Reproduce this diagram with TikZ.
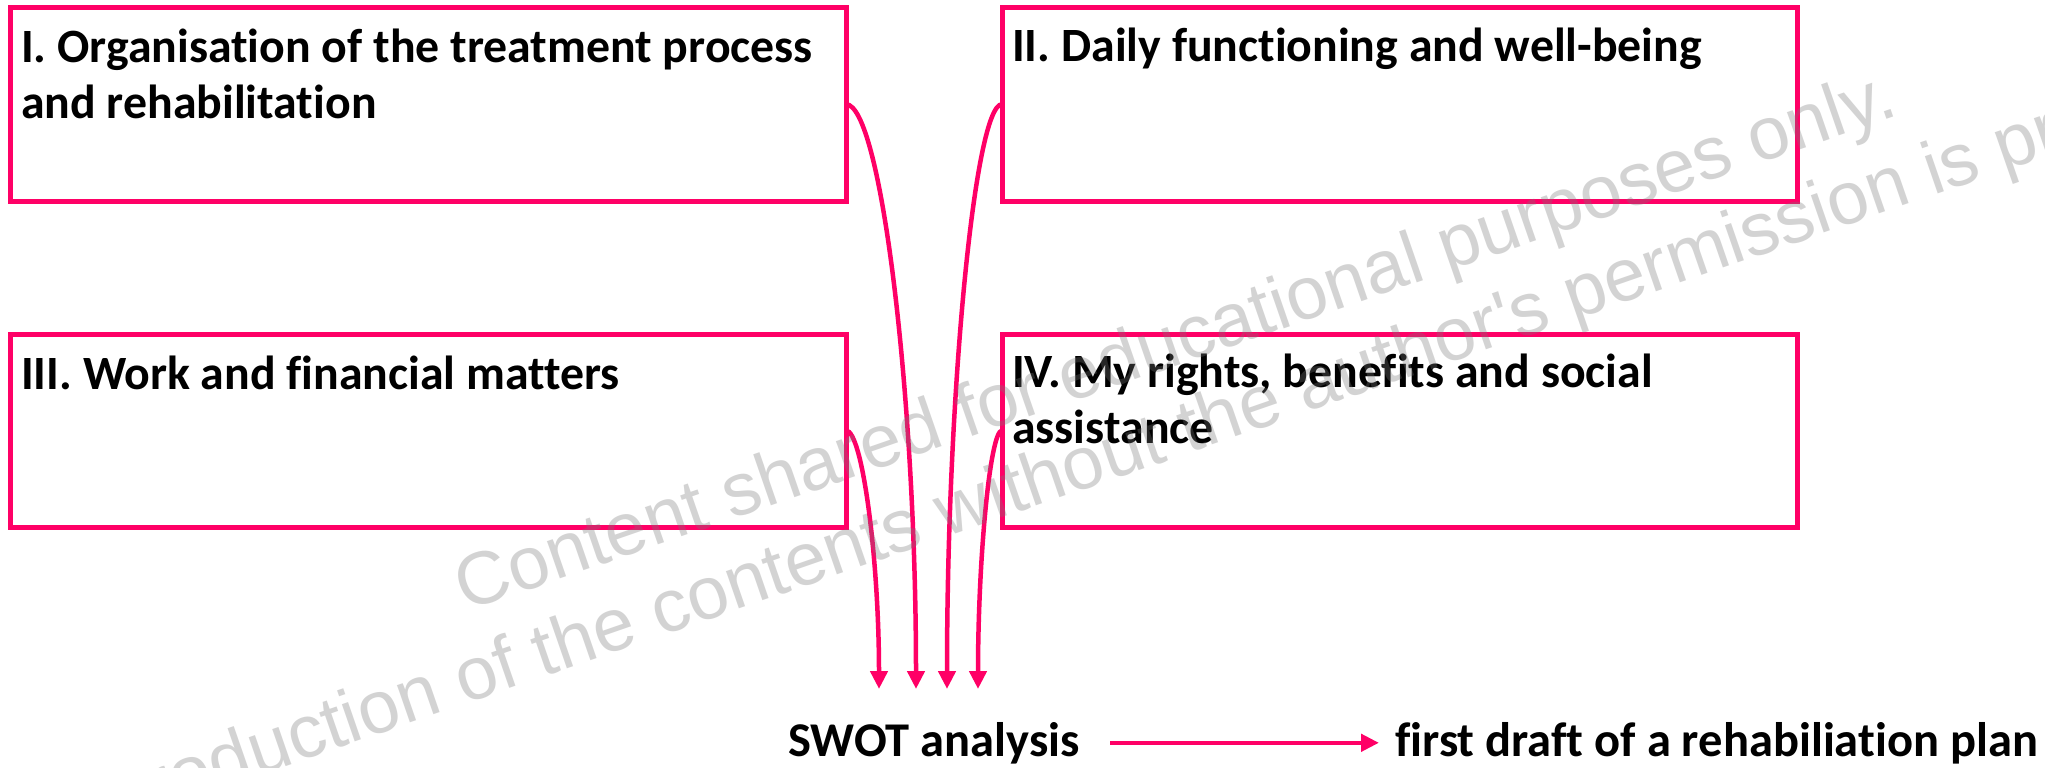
\documentclass[tikz,border=0pt]{standalone}
\usepackage{fontspec}
\setmainfont{Carlito}[Ligatures=NoCommon]
\newfontfamily\wmfont{Liberation Sans}
\usetikzlibrary{arrows.meta,calc}
\definecolor{pinkc}{RGB}{255,0,102}
\definecolor{wmgray}{RGB}{120,120,120}
\begin{document}
\begin{tikzpicture}[x=1pt,y=-1pt,
  box/.style={draw=pinkc, line width=5pt, rectangle, anchor=north west, inner sep=0pt, outer sep=0pt},
  lbl/.style={font=\fontsize{47.8}{56}\selectfont\bfseries, align=left, anchor=base west, inner sep=0pt},
  blbl/.style={font=\fontsize{48.5}{56}\selectfont\bfseries, anchor=base west, inner sep=0pt},
  conn/.style={draw=pinkc, line width=4.5pt, -{Triangle[length=18pt,width=17pt]}},
  wm/.style={font=\wmfont\fontsize{74.5}{74.5}\selectfont, text=wmgray, text opacity=0.32, anchor=base west, inner sep=0pt, rotate=19.1}]
\useasboundingbox (0,0) rectangle (2045,768);
\fill[white] (0,0) rectangle (2045,768);
% boxes
\node[box, minimum width=836pt, minimum height=193.5pt] (b1) at (10,7.5) {};
\node[box, minimum width=795pt, minimum height=193.5pt] (b2) at (1002,7.5) {};
\node[box, minimum width=836pt, minimum height=193pt] (b3) at (10,334) {};
\node[box, minimum width=795pt, minimum height=193pt] (b4) at (1002,334) {};
% labels (base west = baseline of the last line)
\node[lbl] (t1) at (21,118) {I. Organisation of the treatment process\\and rehabilitation};
\node[lbl] (t2) at (1012,62) {II. Daily functioning and well-being};
\node[lbl] (t3) at (21,389) {III. Work and financial matters};
\node[lbl] (t4) at (1012,443) {IV. My rights, benefits and social\\assistance};
\node[blbl] (swot) at (788,756) {SWOT analysis};
\node[blbl] (draft) at (1395,756) {first draft of a rehabiliation plan};
% arrow ends
\coordinate (e3) at (879,689);
\coordinate (e1) at (916,689);
\coordinate (e2) at (947,689);
\coordinate (e4) at (978,689);
\draw[conn] (b1.east) .. controls (881,104.5) and (916,397) .. (e1);
\draw[conn] (b2.west) .. controls (974.5,104.5) and (947,397) .. (e2);
\draw[conn] (b3.east) .. controls (862.5,430.5) and (879,560) .. (e3);
\draw[conn] (b4.west) .. controls (990,430.5) and (978,560) .. (e4);
\draw[conn, shorten <=30pt, shorten >=16pt] (swot.east) -- (draft.west);
% watermark
\begin{scope}
\clip (0,0) rectangle (2045,768);
\node[wm] (w1) at (465,612) {Content shared for educational purposes only.};
\node[wm] (w2) at (26,856) {Reproduction of the contents without the author's permission is prohibited.};
\end{scope}
\end{tikzpicture}
\end{document}
